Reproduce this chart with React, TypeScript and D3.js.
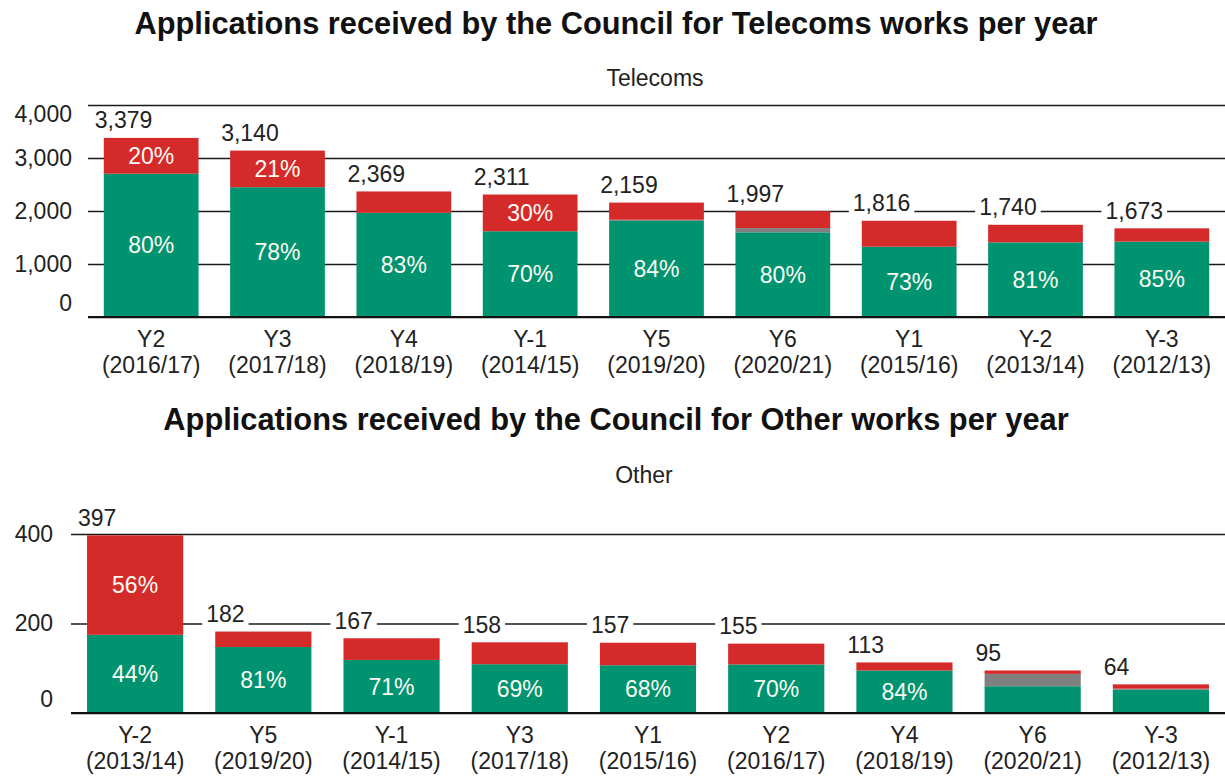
import React, { useEffect, useRef } from 'react'
import * as d3 from 'd3'

// Telecoms works
const telecomYears = ['Y2', 'Y3', 'Y4', 'Y-1', 'Y5', 'Y6', 'Y1', 'Y-2', 'Y-3']
const telecomPeriods = ['(2016/17)', '(2017/18)', '(2018/19)', '(2014/15)', '(2019/20)', '(2020/21)', '(2015/16)', '(2013/14)', '(2012/13)']
const telecomTotals = [3379, 3140, 2369, 2311, 2159, 1997, 1816, 1740, 1673]
const telecomGreenPct = [80, 78, 83, 70, 84, 80, 73, 81, 85]
const telecomGrayPct = [0, 0, 0, 0, 1, 4, 0, 0, 0]
const telecomRedPct = [20, 21, 17, 30, 15, 16, 27, 19, 15]
const telecomTicks = [0, 1000, 2000, 3000, 4000]

// Other works
const otherYears = ['Y-2', 'Y5', 'Y-1', 'Y3', 'Y1', 'Y2', 'Y4', 'Y6', 'Y-3']
const otherPeriods = ['(2013/14)', '(2019/20)', '(2014/15)', '(2017/18)', '(2015/16)', '(2016/17)', '(2018/19)', '(2020/21)', '(2012/13)']
const otherTotals = [397, 182, 167, 158, 157, 155, 113, 95, 64]
const otherGreenPct = [44, 81, 71, 69, 68, 70, 84, 63, 81]
const otherGrayPct = [0, 0, 0, 0, 0, 0, 0, 29, 4]
const otherRedPct = [56, 19, 29, 31, 32, 30, 16, 8, 15]
const otherTicks = [0, 200, 400]

const GREEN = '#00936f'
const GRAY = '#808080'
const RED = '#d52a2a'
const INK = '#222'
const FONT = '"Liberation Sans", Arial, Helvetica, sans-serif'
const W = 1225
const H = 776

function drawPanel(root, p) {
  const g = root.append('g')
  const x = d3.scaleBand().domain(p.years).range([p.left, W]).paddingInner(0.25).paddingOuter(0.125)
  const y = d3.scaleLinear().domain([0, p.yMax]).range([p.bottom, p.top])

  // titles
  g.append('text').attr('x', 616).attr('y', p.titleY).attr('text-anchor', 'middle')
    .attr('font-size', 30.8).attr('font-weight', 'bold').attr('fill', '#111').text(p.title)
  g.append('text').attr('x', p.subX).attr('y', p.subY).attr('text-anchor', 'middle')
    .attr('font-size', 23).attr('fill', INK).text(p.subtitle)

  // y axis + grid
  const axis = g.append('g').attr('transform', `translate(${p.left},0)`)
    .call(d3.axisLeft(y).tickValues(p.ticks).tickSize(-(W - p.left)).tickPadding(p.pad).tickFormat(d3.format(',')))
  axis.select('.domain').remove()
  axis.selectAll('line').attr('stroke', '#1a1a1a').attr('stroke-width', 1.6)
  axis.selectAll('text').attr('font-size', 23).attr('fill', INK).attr('font-family', FONT)
    .attr('transform', d => d === 0 ? 'translate(0,-14)' : d === p.yMax ? `translate(0,${p.topShift})` : null)

  // stacked bars
  const bars = p.years.map((yr, i) => {
    const t = p.totals[i]
    const g1 = t * p.green[i] / 100
    const g2 = g1 + t * p.gray[i] / 100
    return [
      { k: 'green', y0: 0, y1: g1, pct: p.green[i], color: GREEN },
      { k: 'gray', y0: g1, y1: g2, pct: p.gray[i], color: GRAY },
      { k: 'red', y0: g2, y1: t, pct: p.red[i], color: RED },
    ].map(s => ({ ...s, yr, i }))
  })

  const segs = bars.flat().filter(s => s.y1 > s.y0)
  g.append('g').selectAll('rect').data(segs).join('rect')
    .attr('x', d => x(d.yr))
    .attr('width', x.bandwidth())
    .attr('y', d => y(d.y1))
    .attr('height', d => y(d.y0) - y(d.y1))
    .attr('fill', d => d.color)

  // percent labels inside tall enough segments
  g.append('g').selectAll('text').data(segs.filter(s => s.k !== 'gray' && y(s.y0) - y(s.y1) >= 30)).join('text')
    .attr('x', d => x(d.yr) + x.bandwidth() / 2)
    .attr('y', d => (y(d.y0) + y(d.y1)) / 2)
    .attr('dy', '0.35em')
    .attr('text-anchor', 'middle')
    .attr('font-size', 23)
    .attr('fill', '#fbfbf4')
    .text(d => d.pct + '%')

  // base line
  g.append('line').attr('x1', p.left).attr('x2', W).attr('y1', y(0)).attr('y2', y(0))
    .attr('stroke', '#111').attr('stroke-width', 2.2)

  // totals with white box behind
  const tot = g.append('g').selectAll('g').data(p.years).join('g')
  tot.each(function (yr, i) {
    const node = d3.select(this)
    const txt = node.append('text')
      .attr('x', x(yr) - 9)
      .attr('y', y(p.totals[i]) - 17.5)
      .attr('dy', '0.35em')
      .attr('font-size', 23)
      .attr('fill', INK)
      .text(d3.format(',')(p.totals[i]))
    const b = txt.node().getBBox()
    node.insert('rect', 'text').attr('x', b.x - 4).attr('y', b.y).attr('width', b.width + 8).attr('height', b.height)
      .attr('fill', '#fff')
  })

  // category labels
  const cat = g.append('g').selectAll('text').data(p.years).join('text')
    .attr('text-anchor', 'middle')
    .attr('font-size', 23)
    .attr('fill', INK)
  cat.append('tspan').attr('x', d => x(d) + x.bandwidth() / 2).attr('y', y(0) + 30).text(d => d)
  cat.append('tspan').attr('x', d => x(d) + x.bandwidth() / 2).attr('y', y(0) + 56).text((d, i) => p.periods[i])
}

export default function App() {
  const svgRef = useRef(null)

  useEffect(() => {
    const svg = d3.select(svgRef.current)
    svg.selectAll('*').remove()

    drawPanel(svg, {
      title: 'Applications received by the Council for Telecoms works per year',
      subtitle: 'Telecoms', titleY: 34, subX: 655, subY: 86,
      years: telecomYears, periods: telecomPeriods, totals: telecomTotals,
      green: telecomGreenPct, gray: telecomGrayPct, red: telecomRedPct,
      ticks: telecomTicks, yMax: 4000, left: 88, top: 105, bottom: 317, pad: 16, topShift: 9,
    })

    drawPanel(svg, {
      title: 'Applications received by the Council for Other works per year',
      subtitle: 'Other', titleY: 430, subX: 644, subY: 483,
      years: otherYears, periods: otherPeriods, totals: otherTotals,
      green: otherGreenPct, gray: otherGrayPct, red: otherRedPct,
      ticks: otherTicks, yMax: 400, left: 71, top: 534, bottom: 713, pad: 18, topShift: 0,
    })
  }, [])

  return (
    <svg ref={svgRef} width={W} height={H}
      style={{ position: 'absolute', left: 0, top: 0, background: '#fff', fontFamily: FONT }} />
  )
}
